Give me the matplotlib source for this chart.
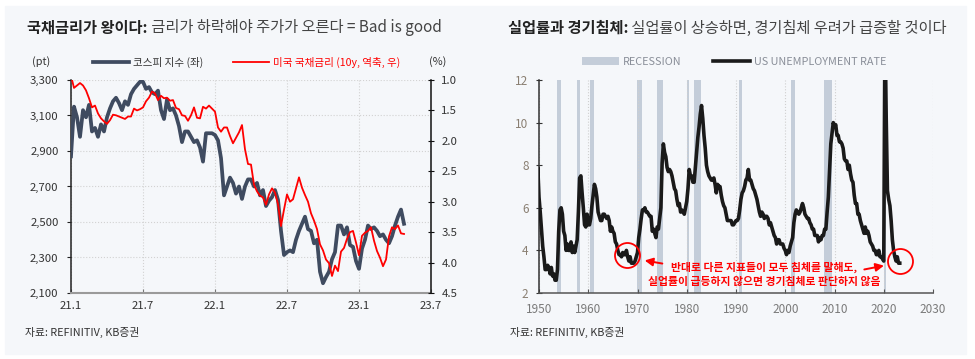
import numpy as np
import matplotlib
matplotlib.use('Agg')
import matplotlib.pyplot as plt
from matplotlib.lines import Line2D
from matplotlib.patches import Patch, Rectangle

plt.rcParams['font.family'] = ['Noto Sans CJK KR', 'DejaVu Sans']

# ---- left chart: KOSPI vs US 10y (weekly, months since 2021-01) ----
week_step = 0.25
kospi = [
    2870, 3150, 3090, 2980,  3130, 3090, 3160, 3010,  3030, 2980, 3050, 3010,
    3090, 3140, 3180, 3200,  3170, 3130, 3180, 3160,  3220, 3250, 3270, 3290,
    3290, 3250, 3260, 3230,  3220, 3240, 3130, 3080,  3190, 3130, 3140, 3100,
    3040, 2950, 3010, 3010,  2980, 2950, 2960, 2920,  2840, 3000, 3000, 3000,
    2990, 2960, 2860, 2650,  2700, 2750, 2720, 2660,  2700, 2630, 2700, 2740,
    2740, 2700, 2720, 2650,  2680, 2590, 2620, 2640,  2680, 2625, 2450, 2314,
    2330, 2340, 2330, 2400,  2450, 2490, 2530, 2460,  2450, 2380, 2400, 2220,
    2155, 2190, 2220, 2290,  2330, 2480, 2480, 2430,  2470, 2370, 2360, 2280,
    2236, 2350, 2400, 2480,  2460, 2470, 2450, 2420,  2430, 2400, 2380, 2420,
    2480, 2530, 2570, 2490,
]
ust10y = [
    0.93, 1.13, 1.09, 1.05,  1.09, 1.17, 1.30, 1.45,  1.42, 1.55, 1.63, 1.68,
    1.72, 1.66, 1.57, 1.58,  1.60, 1.62, 1.64, 1.60,  1.60, 1.47, 1.50, 1.48,
    1.45, 1.35, 1.29, 1.19,  1.22, 1.33, 1.26, 1.30,  1.29, 1.34, 1.33, 1.46,
    1.48, 1.58, 1.59, 1.67,  1.58, 1.45, 1.62, 1.63,  1.44, 1.47, 1.42, 1.47,
    1.52, 1.78, 1.85, 1.78,  1.78, 1.92, 2.04, 1.95,  1.86, 1.74, 2.14, 2.38,
    2.39, 2.72, 2.83, 2.90,  2.93, 3.05, 2.88, 2.78,  2.85, 3.04, 3.40, 3.13,
    2.88, 3.00, 2.96, 2.78,  2.60, 2.77, 2.89, 3.00,  3.19, 3.31, 3.45, 3.70,
    3.80, 3.95, 4.01, 4.22,  4.05, 4.14, 3.82, 3.76,  3.61, 3.50, 3.48, 3.67,
    3.88, 3.56, 3.51, 3.48,  3.42, 3.64, 3.81, 3.92,  4.06, 3.95, 3.57, 3.42,
    3.45, 3.39, 3.52, 3.53,
]
month_ticks = [0, 6, 12, 18, 24, 30]
month_labels = ['21.1', '21.7', '22.1', '22.7', '23.1', '23.7']
kospi_ticks = [2100, 2300, 2500, 2700, 2900, 3100, 3300]
rate_ticks = [1.0, 1.5, 2.0, 2.5, 3.0, 3.5, 4.0, 4.5]

# ---- right chart: US unemployment rate (Jan/Apr/Jul/Oct, from Jul 1949) ----
ur_start = 1949.5
unemp_rate = [
    6.7, 7.9,
    6.5, 5.8, 5.0, 4.2,  3.7, 3.1, 3.1, 3.3,  3.2, 2.9, 3.2, 2.8,  2.9, 2.6, 2.6, 3.1,
    4.9, 5.9, 6.0, 5.7,  4.9, 4.7, 4.0, 4.3,  4.0, 4.0, 4.4, 3.9,  4.2, 3.9, 4.2, 4.5,
    5.8, 7.4, 7.5, 6.7,  6.0, 5.2, 5.1, 5.7,  5.2, 5.2, 5.5, 6.1,  6.6, 7.1, 6.9, 6.5,
    5.8, 5.6, 5.4, 5.4,  5.7, 5.7, 5.6, 5.5,  5.6, 5.4, 4.9, 5.1,  4.9, 4.8, 4.4, 4.3,
    4.0, 3.8, 3.8, 3.7,  3.9, 3.8, 3.8, 4.0,  3.7, 3.5, 3.7, 3.4,  3.4, 3.4, 3.5, 3.7,
    3.9, 4.6, 5.0, 5.5,  5.9, 5.9, 6.0, 5.8,  5.8, 5.7, 5.6, 5.6,  4.9, 5.0, 4.8, 4.6,
    5.1, 5.0, 5.5, 6.0,  8.1, 9.0, 8.6, 8.4,  7.9, 7.7, 7.8, 7.7,  7.5, 7.2, 6.9, 6.8,
    6.4, 6.1, 6.2, 5.8,  5.9, 5.8, 5.7, 6.0,  6.3, 6.9, 7.8, 7.5,  7.5, 7.2, 7.2, 7.9,
    8.6, 9.3, 9.8, 10.4, 10.8, 10.2, 9.4, 8.8, 8.0, 7.7, 7.5, 7.4,  7.3, 7.3, 7.4, 7.1,
    6.7, 7.1, 7.0, 7.0,  6.6, 6.3, 6.1, 6.0,  5.7, 5.4, 5.4, 5.4,  5.4, 5.2, 5.2, 5.3,
    5.4, 5.4, 5.5, 5.9,  6.4, 6.7, 6.8, 7.0,  7.3, 7.4, 7.8, 7.3,  7.3, 7.1, 6.9, 6.8,
    6.6, 6.4, 6.1, 5.8,  5.6, 5.8, 5.7, 5.5,  5.6, 5.6, 5.5, 5.2,  5.3, 5.1, 4.9, 4.7,
    4.6, 4.3, 4.5, 4.5,  4.3, 4.3, 4.3, 4.1,  4.0, 3.8, 4.0, 3.9,  4.2, 4.4, 4.6, 5.3,
    5.7, 5.9, 5.8, 5.7,  5.8, 6.0, 6.2, 6.0,  5.7, 5.6, 5.5, 5.5,  5.3, 5.2, 5.0, 5.0,
    4.7, 4.7, 4.7, 4.4,  4.6, 4.5, 4.7, 4.7,  5.0, 5.0, 5.8, 6.5,  7.8, 9.0, 9.5, 10.0,
    9.8, 9.9, 9.4, 9.4,  9.1, 9.1, 9.0, 8.8,  8.3, 8.2, 8.2, 7.8,  8.0, 7.6, 7.3, 7.2,
    6.6, 6.2, 6.2, 5.7,  5.7, 5.4, 5.2, 5.0,  4.8, 5.1, 4.8, 4.9,  4.7, 4.4, 4.3, 4.2,
    4.0, 4.0, 3.8, 3.8,  4.0, 3.7, 3.7, 3.6,  3.5, 14.7, 10.2, 6.8, 6.4, 6.1, 5.4, 4.5,
    4.0, 3.7, 3.5, 3.7,  3.4, 3.4,
]
recession_start = [1953.6, 1957.7, 1960.3, 1969.9, 1973.9, 1980.0, 1981.5, 1990.6, 2001.2, 2007.9, 2020.1]
recession_end = [1954.4, 1958.3, 1961.1, 1970.9, 1975.2, 1980.5, 1982.9, 1991.2, 2001.9, 2009.5, 2020.4]
year_ticks = [1950, 1960, 1970, 1980, 1990, 2000, 2010, 2020, 2030]
ur_ticks = [2, 4, 6, 8, 10, 12]

W, H = 975, 359
BG = '#F5F7FA'
KOSPI_C = '#3F4B60'
RED = '#FF0000'
REC_C = '#C4CDD9'


def fx(px):
    return px / W


def fy(py):
    return 1 - py / H


fig = plt.figure(figsize=(W / 100, H / 100), dpi=100)
fig.patches.append(Rectangle((fx(5), fy(354)), fx(966) - fx(5), fy(6) - fy(354),
                             transform=fig.transFigure, color=BG, zorder=-5))

# ---------------- left chart ----------------
ax1 = fig.add_axes([fx(71), fy(293), fx(431) - fx(71), fy(80) - fy(293)])
ax1.set_facecolor('none')
months = np.arange(len(kospi)) * week_step
ax1.plot(months, kospi, color=KOSPI_C, lw=2.7, solid_joinstyle='round', zorder=3)
ax1.set_xlim(0, 30)
ax1.set_ylim(2100, 3300)
ax1.set_yticks(kospi_ticks, ['{:,}'.format(v) for v in kospi_ticks])
ax1.set_xticks(month_ticks, month_labels)
ax1.grid(color='#d2d2d2', ls=':', lw=0.8)
ax1.spines['top'].set_visible(False)
ax1.spines['right'].set_visible(False)
ax1.spines['left'].set_color('#222')
ax1.spines['left'].set_linewidth(1.1)
ax1.spines['bottom'].set_color('#9a9a9a')
ax1.spines['bottom'].set_linewidth(1.5)
ax1.tick_params(axis='y', direction='out', length=3, color='#222', labelsize=8.2,
                labelcolor='#333', pad=6)
ax1.tick_params(axis='x', direction='in', length=3, color='#777', labelsize=8.2,
                labelcolor='#333', pad=6)

ax2 = ax1.twinx()
ax2.plot(months[:len(ust10y)], ust10y, color=RED, lw=1.3, zorder=4)
ax2.set_ylim(4.5, 1.0)
ax2.set_yticks(rate_ticks, ['{:.1f}'.format(v) for v in rate_ticks])
for s in ['top', 'left', 'bottom']:
    ax2.spines[s].set_visible(False)
ax2.spines['right'].set_color('#111')
ax2.spines['right'].set_linewidth(1.1)
ax2.tick_params(axis='y', direction='inout', length=5, color='#111', labelsize=8.2,
                labelcolor='#333', pad=5)

fig.text(fx(41), fy(62), '(pt)', ha='center', va='center', fontsize=7.8, color='#333')
fig.text(fx(438), fy(62), '(%)', ha='center', va='center', fontsize=7.8, color='#333')
leg1 = fig.legend([Line2D([], [], color=KOSPI_C, lw=2.7), Line2D([], [], color=RED, lw=1.3)],
                  ['코스피 지수 (좌)', '미국 국채금리 (10y, 역축, 우)'],
                  loc='center left', bbox_to_anchor=(fx(93), fy(62)), ncol=2, frameon=False,
                  fontsize=7.6, handlelength=3.4, handletextpad=0.4, columnspacing=2.8,
                  borderpad=0, borderaxespad=0)
leg1.get_texts()[0].set_color('#333')
leg1.get_texts()[1].set_color(RED)

t1 = fig.text(fx(27), fy(28), '국채금리가 왕이다:', fontsize=11, fontweight='bold',
              color='#222', va='center', ha='left')
ax1.annotate(' 금리가 하락해야 주가가 오른다 = Bad is good', xy=(1, 0.5), xycoords=t1,
             va='center', ha='left', fontsize=11, color='#444', annotation_clip=False)
fig.text(fx(25), fy(332), '자료: REFINITIV, KB증권', fontsize=7.8, color='#333', va='center')

# ---------------- right chart ----------------
ax3 = fig.add_axes([fx(539), fy(293), fx(933) - fx(539), fy(80) - fy(293)])
ax3.set_facecolor('none')
for s, e in zip(recession_start, recession_end):
    ax3.axvspan(s, e, color=REC_C, lw=0, zorder=1)
ur_year = ur_start + np.arange(len(unemp_rate)) * 0.25
ax3.plot(ur_year, unemp_rate, color='#1A1A1A', lw=2.6, solid_joinstyle='round', zorder=3)
ax3.set_xlim(1950, 2030)
ax3.set_ylim(2, 12)
ax3.set_xticks(year_ticks)
ax3.set_yticks(ur_ticks)
ax3.grid(axis='x', color='#cfcfcf', ls=':', lw=0.8, zorder=0)
ax3.spines['top'].set_visible(False)
ax3.spines['right'].set_visible(False)
ax3.spines['left'].set_color('#333')
ax3.spines['left'].set_linewidth(1.1)
ax3.spines['bottom'].set_color('#555')
ax3.spines['bottom'].set_linewidth(1.1)
ax3.tick_params(axis='y', direction='inout', length=5, color='#333', labelsize=8.5,
                labelcolor='#8a7f72', pad=5)
ax3.tick_params(axis='x', direction='in', length=3, color='#555', labelsize=8.5,
                labelcolor='#7a7a7a', pad=7)

# circles and note
ax3.plot([1967.8, 2023.4], [3.78, 3.52], 'o', ms=18, mfc='none', mec=RED, mew=1.3, zorder=5)
ax3.annotate('', xy=(1970.9, 3.55), xytext=(1975.6, 3.36),
             arrowprops=dict(arrowstyle='-|>', color=RED, lw=1.4, mutation_scale=12))
ax3.annotate('', xy=(2020.6, 3.31), xytext=(2015.5, 3.08),
             arrowprops=dict(arrowstyle='-|>', color=RED, lw=1.4, mutation_scale=12))
ax3.text(1995.7, 2.88, '반대로 다른 지표들이 모두 침체를 말해도,\n실업률이 급등하지 않으면 경기침체로 판단하지 않음',
         ha='center', va='center', fontsize=7.8, fontweight='bold', color=RED,
         linespacing=1.45, zorder=6)

leg2 = fig.legend([Patch(facecolor=REC_C, edgecolor='none'), Line2D([], [], color='#1A1A1A', lw=2.6)],
                  ['RECESSION', 'US UNEMPLOYMENT RATE'],
                  loc='center left', bbox_to_anchor=(fx(582), fy(62)), ncol=2, frameon=False,
                  fontsize=7.8, handlelength=3.4, handletextpad=0.4, columnspacing=2.9,
                  borderpad=0, borderaxespad=0)
for t in leg2.get_texts():
    t.set_color('#8a8f99')

t2 = fig.text(fx(508), fy(28), '실업률과 경기침체:', fontsize=11, fontweight='bold',
              color='#222', va='center', ha='left')
ax3.annotate(' 실업률이 상승하면, 경기침체 우려가 급증할 것이다', xy=(1, 0.5), xycoords=t2,
             va='center', ha='left', fontsize=11, color='#444', annotation_clip=False)
fig.text(fx(510), fy(332), '자료: REFINITIV, KB증권', fontsize=7.8, color='#333', va='center')

fig.savefig('out.png', dpi=100, facecolor='white')
